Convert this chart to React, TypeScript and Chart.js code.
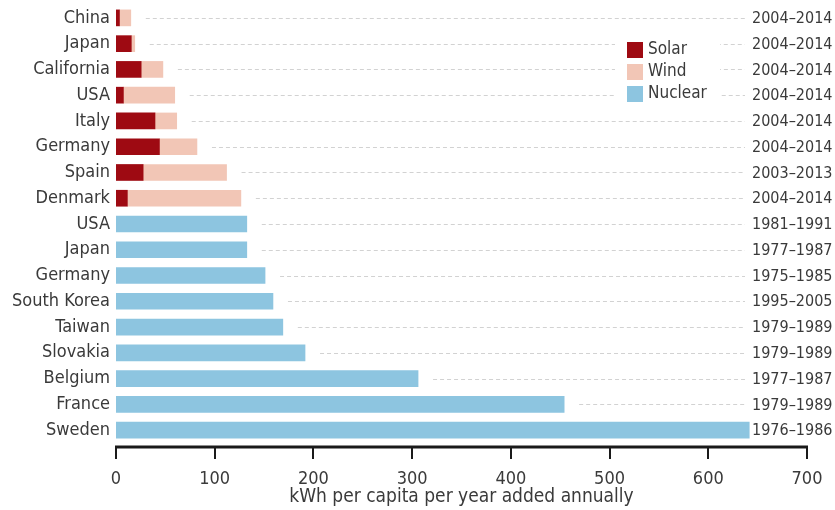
import React, { useEffect, useRef } from "react";
import { Chart, registerables } from "chart.js";

Chart.register(...registerables);

const categories = ["China", "Japan", "California", "USA", "Italy", "Germany", "Spain", "Denmark", "USA", "Japan", "Germany", "South Korea", "Taiwan", "Slovakia", "Belgium", "France", "Sweden"];
const periods = ["2004–2014", "2004–2014", "2004–2014", "2004–2014", "2004–2014", "2004–2014", "2003–2013", "2004–2014", "1981–1991", "1977–1987", "1975–1985", "1995–2005", "1979–1989", "1979–1989", "1977–1987", "1979–1989", "1976–1986"];
const solar = [3.5, 15.5, 25.5, 7.5, 39.5, 44, 27.5, 11.5, null, null, null, null, null, null, null, null, null];
const wind = [11.5, 3.5, 22, 52, 22, 38, 84.5, 115, null, null, null, null, null, null, null, null, null];
const nuclear = [null, null, null, null, null, null, null, null, 132.5, 132.5, 151, 159, 169, 191.5, 306, 454, 641.5];
const xTicks = [0, 100, 200, 300, 400, 500, 600, 700];
const axisTitle = "kWh per capita per year added annually";

const FONT = "'DejaVu Sans Condensed', 'Liberation Sans Narrow', sans-serif";
const TEXT = "#3a3a3a";

const overlay = {
  id: "overlay",
  afterDatasetsDraw(chart: any) {
    const ctx = chart.ctx;
    const x = chart.scales.x;
    const y = chart.scales.y;
    const area = chart.chartArea;
    ctx.save();
    // leader lines
    ctx.strokeStyle = "#d2d2d2";
    ctx.lineWidth = 1;
    ctx.setLineDash([4, 3]);
    categories.forEach((_, i) => {
      const total = (solar[i] || 0) + (wind[i] || 0) + (nuclear[i] || 0);
      const sx = x.getPixelForValue(total) + 15;
      const ex = 745;
      if (sx < ex) {
        const yy = Math.round(y.getPixelForValue(i)) + 0.5;
        ctx.beginPath();
        ctx.moveTo(sx, yy);
        ctx.lineTo(ex, yy);
        ctx.stroke();
      }
    });
    ctx.setLineDash([]);
    // right labels
    ctx.fillStyle = TEXT;
    ctx.font = "16px " + FONT;
    ctx.textAlign = "left";
    ctx.textBaseline = "middle";
    periods.forEach((p, i) => {
      ctx.fillText(p, 752, y.getPixelForValue(i) + 1);
    });
    // legend
    ctx.fillStyle = "#ffffff";
    ctx.fillRect(615, 30, 105, 76);
    ctx.font = "17px " + FONT;
    chart.data.datasets.forEach((ds: any, i: number) => {
      const top = 42 + i * 22;
      ctx.fillStyle = ds.backgroundColor;
      ctx.fillRect(627, top, 16, 16);
      ctx.fillStyle = TEXT;
      ctx.fillText(ds.label, 648, top + 8);
    });
    // x axis line and ticks
    const axY = area.bottom + 4;
    ctx.strokeStyle = "#1a1a1a";
    ctx.lineWidth = 3;
    ctx.beginPath();
    ctx.moveTo(x.getPixelForValue(0) - 1, axY);
    ctx.lineTo(x.getPixelForValue(700) + 1, axY);
    ctx.stroke();
    ctx.lineWidth = 2;
    xTicks.forEach((t) => {
      const px = Math.round(x.getPixelForValue(t));
      ctx.beginPath();
      ctx.moveTo(px, axY);
      ctx.lineTo(px, axY + 12);
      ctx.stroke();
    });
    ctx.restore();
  },
};

export default function App() {
  const ref = useRef<HTMLCanvasElement>(null);
  useEffect(() => {
    const chart = new Chart(ref.current!, {
      type: "bar",
      data: {
        labels: categories,
        datasets: [
          { label: "Solar", data: solar, backgroundColor: "#9e0a12", barThickness: 16 },
          { label: "Wind", data: wind, backgroundColor: "#f2c6b6", barThickness: 16 },
          { label: "Nuclear", data: nuclear, backgroundColor: "#8dc5e0", barThickness: 16 },
        ],
      },
      options: {
        indexAxis: "y",
        animation: false,
        responsive: false,
        maintainAspectRatio: false,
        layout: { padding: { top: 5, right: 28, bottom: 0, left: 0 } },
        plugins: { legend: { display: false }, tooltip: { enabled: false } },
        scales: {
          x: {
            stacked: true,
            min: 0,
            max: 700,
            afterFit: (s: any) => { s.height = 67; s.paddingLeft = 0; s.paddingRight = 0; },
            afterBuildTicks: (s: any) => { s.ticks = xTicks.map((v) => ({ value: v })); },
            grid: { display: false, drawTicks: false },
            border: { display: false },
            ticks: { color: TEXT, font: { family: FONT, size: 18 }, padding: 26, maxRotation: 0 },
            title: { display: true, text: axisTitle, color: TEXT, font: { family: FONT, size: 19 }, padding: { top: 0, bottom: 2 } },
          },
          y: {
            stacked: true,
            offset: true,
            afterFit: (s: any) => { s.width = 116; s.paddingTop = 0; s.paddingBottom = 0; },
            grid: { display: false, drawTicks: false },
            border: { display: false },
            ticks: { color: TEXT, font: { family: FONT, size: 18 }, padding: 6, autoSkip: false },
          },
        },
      },
      plugins: [overlay],
    });
    return () => chart.destroy();
  }, []);
  return (
    <div style={{ position: "fixed", left: 0, top: 0, width: 835, height: 510, background: "#fff" }}>
      <canvas ref={ref} width={835} height={510} />
    </div>
  );
}
